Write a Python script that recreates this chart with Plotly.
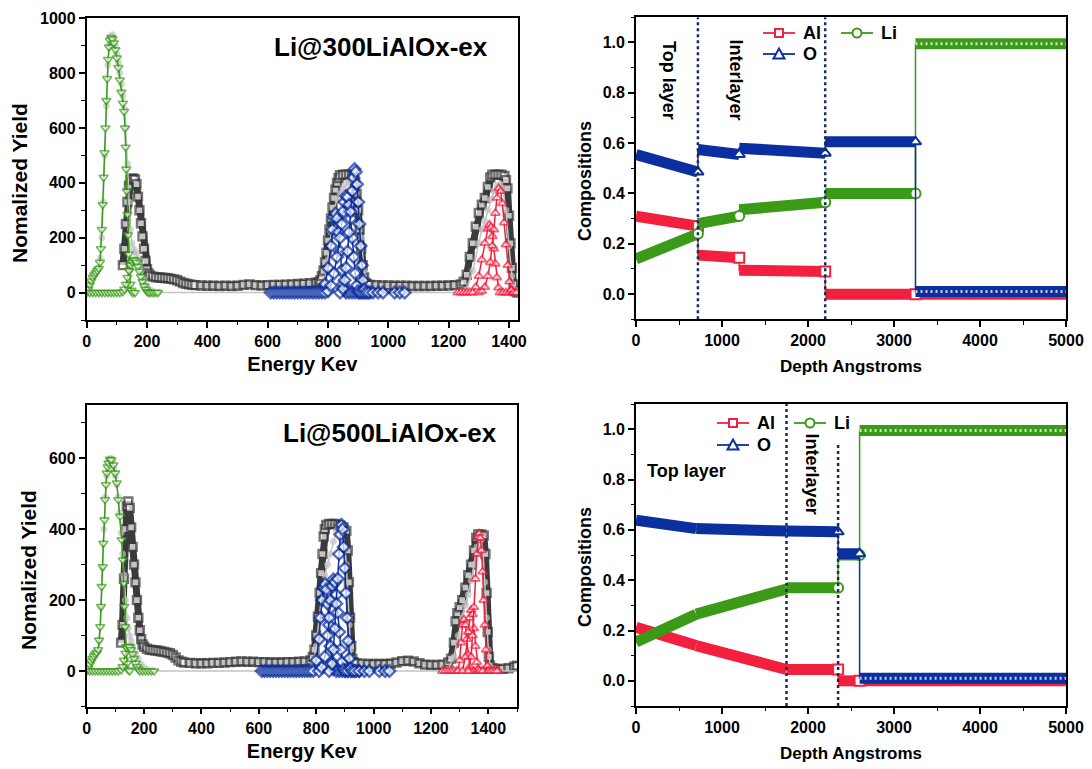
import plotly.graph_objects as go

F = "Liberation Sans"

# ---------------- Left panels: (Energy keV, Normalized yield) ----------------
TL_EXP = [(120,100),(125,160),(130,250),(135,330),(140,390),(145,410),(150,415),(155,415),(160,412),(165,395),
          (170,350),(175,300),(180,253),(185,205),(190,160),(195,115),(200,85),(205,70),(210,62),(220,58),
          (230,56),(240,55),(250,54),(260,53),(270,52),(280,50),(290,48),(300,45),(310,40),(320,35),
          (330,32),(340,30),(350,28),(360,27),(380,26),(400,25),(420,25),(440,24),(460,25),(480,24),
          (500,25),(520,28),(540,30),(560,27),(580,26),(600,27),(620,28),(640,28),(660,29),(680,30),
          (700,31),(720,32),(740,34),(760,36),(770,38),(775,45),(780,60),(785,80),(790,110),(795,145),
          (800,190),(805,230),(810,270),(815,310),(820,345),(825,375),(830,400),(835,418),(840,428),(850,430),
          (860,430),(870,430),(880,428),(885,420),(890,400),(895,360),(900,300),(905,230),(910,160),(915,100),
          (920,55),(925,35),(930,30),(940,28),(960,27),(980,26),(1000,26),(1020,25),(1040,25),(1060,25),
          (1080,24),(1100,24),(1120,24),(1140,24),(1160,25),(1180,25),(1200,26),(1220,27),(1240,30),(1250,40),
          (1260,65),(1270,130),(1280,180),(1290,240),(1300,290),(1310,320),(1320,345),(1330,385),(1338,420),(1345,430),
          (1355,430),(1365,430),(1375,430),(1385,425),(1390,410),(1395,380),(1400,280),(1405,180),(1410,90),(1415,30),
          (1420,5),(1428,0)]
TL_SIM = [(0,0),(10,30),(20,60),(30,78),(40,92),(45,125),(50,200),(55,330),(60,500),(65,680),
          (70,830),(75,905),(80,935),(85,940),(90,925),(95,900),(100,870),(105,840),(110,800),(115,760),
          (120,715),(125,670),(130,600),(135,470),(140,330),(145,230),(150,180),(155,160),(160,150),(165,140),
          (170,120),(175,100),(180,80),(190,50),(200,25),(210,10),(220,5),(240,2),(260,0),(320,0),
          (400,0),(500,0),(600,0),(700,0),(760,0),(780,5),(790,40),(800,120),(810,220),(820,300),
          (830,340),(840,360),(850,380),(860,395),(870,405),(880,410),(890,400),(900,330),(910,200),(920,80),
          (930,20),(940,5),(960,0),(1050,0),(1150,0),(1240,0),(1260,10),(1280,80),(1300,180),(1310,230),
          (1320,260),(1330,300),(1340,340),(1350,370),(1360,390),(1370,395),(1380,380),(1390,300),(1400,170),(1410,60),
          (1420,10),(1430,0)]
TL_LI1 = [(0,0),(5,12),(10,28),(15,42),(20,55),(25,64),(30,72),(35,80),(40,88),(44,110),
          (47,160),(50,230),(53,320),(56,420),(59,510),(62,600),(65,700),(68,780),(71,850),(74,895),
          (77,920),(81,930),(85,925),(90,910),(95,885),(100,855),(105,820),(110,775),(115,730),(120,690),
          (124,660),(127,600),(129,530),(131,450),(133,370),(135,285),(137,210),(139,140),(142,80),(145,30),
          (148,8),(152,0),(160,0)]
TL_LI2 = [(10,0),(20,0),(30,0),(40,0),(50,0),(60,0),(70,0),(80,0),(90,0),(100,0),
          (110,0),(120,3),(125,12),(130,30),(135,55),(140,80),(145,100),(150,113),(155,120),(160,118),
          (165,110),(170,95),(175,78),(180,58),(185,40),(190,24),(195,12),(200,4),(205,0),(212,0),
          (220,0),(228,0),(236,0)]
TL_O1 = [(610,0),(620,0),(630,0),(640,0),(650,0),(660,0),(670,0),(680,0),(690,0),(700,0),
         (710,0),(720,0),(730,0),(740,0),(750,0),(760,0),(770,0),(780,0),(790,30),(800,90),
         (810,170),(815,230),(820,275),(825,288),(830,270),(835,220),(840,150),(845,80),(850,30),(855,8),
         (860,0),(870,0),(880,0),(890,0),(900,0),(910,0),(920,0),(930,0),(940,0)]
TL_O2 = [(790,0),(800,5),(810,25),(820,70),(830,130),(840,200),(845,250),(850,295),(855,330),(860,352),
         (865,348),(870,320),(875,270),(880,200),(885,130),(890,70),(895,25),(900,5),(905,0),(915,0)]
TL_O3 = [(840,0),(850,15),(855,45),(860,90),(865,150),(870,220),(875,295),(880,370),(884,420),(888,450),
         (892,440),(896,395),(900,330),(904,250),(908,170),(912,100),(916,45),(920,12),(925,0),(935,0),
         (949,0),(966,0),(982,0),(1021,0),(1038,0),(1054,0)]
TL_AL1 = [(1230,0),(1240,0),(1250,0),(1260,0),(1270,0),(1280,0),(1290,20),(1300,60),(1310,120),(1320,180),
          (1330,232),(1335,247),(1340,238),(1345,205),(1350,160),(1355,105),(1360,55),(1365,18),(1370,0),(1380,0),
          (1390,0),(1400,0),(1410,0),(1420,0)]
TL_AL2 = [(1300,0),(1310,5),(1320,20),(1330,60),(1338,110),(1345,170),(1350,230),(1355,290),(1360,345),(1366,380),
          (1372,370),(1378,325),(1384,255),(1390,175),(1396,100),(1402,40),(1408,10),(1415,0),(1425,0)]

BL_EXP = [(120,80),(125,130),(130,260),(135,400),(140,465),(145,478),(150,460),(155,405),(160,350),(165,300),
          (170,250),(175,200),(180,150),(185,115),(190,90),(195,75),(200,68),(210,63),(220,60),(230,59),
          (240,58),(250,57),(260,55),(270,54),(280,52),(290,50),(300,45),(310,38),(320,30),(330,26),
          (340,24),(360,23),(380,22),(400,22),(420,22),(440,23),(460,23),(480,24),(500,25),(520,26),
          (540,27),(560,26),(580,26),(600,25),(620,25),(640,24),(660,24),(680,24),(700,25),(720,25),
          (740,26),(760,27),(780,30),(788,40),(794,60),(800,100),(806,153),(812,220),(817,276),(822,330),
          (826,379),(830,400),(835,412),(845,415),(855,415),(865,415),(875,412),(885,410),(895,405),(905,395),
          (910,340),(914,250),(918,150),(922,70),(926,35),(930,25),(940,22),(960,21),(980,20),(1000,20),
          (1020,20),(1040,20),(1060,21),(1080,24),(1100,28),(1120,29),(1140,27),(1160,22),(1180,18),(1200,17),
          (1220,17),(1240,18),(1260,24),(1270,35),(1280,80),(1286,140),(1292,163),(1300,180),(1309,200),(1320,235),
          (1330,270),(1340,300),(1350,340),(1358,375),(1365,385),(1375,385),(1384,382),(1390,330),(1394,220),(1398,110),
          (1402,40),(1406,15),(1415,8),(1430,6),(1450,6),(1470,8),(1490,12),(1500,15)]
BL_SIM = [(0,0),(10,15),(20,30),(30,42),(40,55),(45,85),(50,180),(55,290),(60,400),(65,490),
          (70,550),(75,585),(80,598),(85,600),(90,590),(95,570),(100,550),(105,525),(110,490),(115,445),
          (120,390),(125,330),(130,270),(135,200),(140,150),(145,120),(150,100),(155,85),(160,70),(170,50),
          (180,35),(190,20),(200,10),(210,5),(230,2),(260,0),(320,0),(400,0),(500,0),(600,0),
          (700,0),(760,0),(780,3),(790,20),(800,70),(810,150),(820,220),(830,270),(840,300),(850,330),
          (860,365),(870,395),(880,400),(890,395),(900,350),(905,300),(910,220),(915,130),(920,60),(925,20),
          (935,5),(950,0),(1050,0),(1150,0),(1240,0),(1260,5),(1280,40),(1295,100),(1310,150),(1320,185),
          (1330,215),(1340,255),(1350,300),(1360,350),(1368,375),(1375,370),(1382,330),(1388,250),(1394,150),(1400,60),
          (1406,15),(1415,3),(1430,0),(1500,0)]
BL_LI1 = [(0,0),(5,8),(10,18),(15,27),(20,35),(25,42),(30,48),(35,52),(40,60),(43,87),
          (47,125),(50,182),(52,238),(56,294),(58,360),(62,426),(64,483),(67,525),(70,558),(73,575),
          (76,586),(81,597),(86,595),(93,581),(99,558),(105,530),(110,483),(116,436),(122,370),(126,313),
          (129,247),(131,182),(134,125),(137,69),(141,22),(145,3),(150,0)]
BL_LI2 = [(10,0),(20,0),(30,0),(40,0),(50,0),(60,0),(70,0),(80,0),(90,0),(100,0),
          (110,0),(120,3),(125,12),(130,30),(135,50),(140,65),(145,70),(150,68),(155,60),(160,48),
          (165,35),(170,22),(175,12),(180,5),(185,0),(195,0),(205,0),(215,0),(225,0),(235,0)]
BL_O1 = [(610,0),(620,0),(630,0),(640,0),(650,0),(660,0),(670,0),(680,0),(690,0),(700,0),
         (710,0),(720,0),(730,0),(740,0),(750,0),(760,0),(770,0),(780,0),(790,0),(800,30),
         (810,90),(815,150),(820,200),(825,235),(830,245),(835,230),(840,190),(845,130),(850,70),(855,25),
         (860,5),(870,0),(880,0),(890,0),(900,0),(910,0),(920,0),(930,0),(940,0),(950,0)]
BL_O2 = [(810,0),(820,10),(830,40),(840,100),(845,150),(850,200),(855,240),(860,258),(865,250),(870,215),
         (875,165),(880,110),(885,60),(890,25),(895,5),(900,0),(910,0)]
BL_O3 = [(845,0),(855,20),(860,60),(865,120),(870,190),(875,260),(880,330),(884,385),(888,412),(892,400),
         (896,350),(900,290),(904,220),(908,150),(912,85),(916,35),(920,8),(925,0),(935,0),(950,0),
         (968,0),(985,0),(1020,0),(1040,0),(1055,0)]
BL_AL1 = [(1240,0),(1250,0),(1260,0),(1270,0),(1280,0),(1290,0),(1295,0),(1300,30),(1305,80),(1310,130),
          (1315,145),(1320,130),(1325,90),(1330,45),(1335,12),(1340,0),(1350,0),(1360,0),(1370,0),(1380,0),
          (1390,0),(1400,0),(1410,0),(1420,0),(1428,0),(1435,0)]
BL_AL2 = [(1310,0),(1320,40),(1330,110),(1335,150),(1340,172),(1345,160),(1350,120),(1355,70),(1360,25),(1365,5),
          (1370,0),(1380,0)]
BL_AL3 = [(1330,0),(1340,40),(1345,100),(1350,180),(1355,260),(1360,330),(1365,378),(1368,388),(1372,375),(1376,340),
          (1380,280),(1384,200),(1388,130),(1392,60),(1396,15),(1400,0),(1410,0),(1420,0),(1430,0)]

# ---------------- Right panels: depth profiles (layer bounds, (start, end) composition per layer) ----------------
TR_BOUNDS = [0, 720, 1200, 2200, 3250, 5000]
TR_AL = [(0.31, 0.27), (0.155, 0.145), (0.095, 0.09), (0.0, 0.0), (0.0, 0.0)]
TR_O = [(0.555, 0.485), (0.575, 0.555), (0.58, 0.56), (0.605, 0.605), (0.01, 0.01)]
TR_LI = [(0.14, 0.24), (0.28, 0.31), (0.335, 0.365), (0.40, 0.40), (0.995, 0.995)]
TR_MARK_LAYERS = [0, 1, 2, 3]
TR_DIVIDERS = [720, 2200]
TR_DIVIDER_TOPS = [1.1, 1.1]

BR_BOUNDS = [0, 700, 1750, 2350, 2600, 5000]
BR_AL = [(0.213, 0.14), (0.14, 0.045), (0.045, 0.045), (0.0, 0.0), (0.0, 0.0)]
BR_O = [(0.638, 0.605), (0.605, 0.595), (0.595, 0.592), (0.505, 0.505), (0.01, 0.01)]
BR_LI = [(0.154, 0.265), (0.265, 0.365), (0.37, 0.37), (0.5, 0.5), (0.995, 0.995)]
BR_MARK_LAYERS = [2, 3]
BR_DIVIDERS = [1750, 2350]
BR_DIVIDER_TOPS = [1.1, 0.945]

RED = "#f2203e"
BLUE = "#0b2f9f"
GREEN = "#3b9a18"
DARK = "#3a3a3a"
LIGHT = "#c4c4c4"
NAVY = "#1a2a5a"

# the page places the figure 8px in from the window's top-left corner
OFF = 8
W, H = 1092 - OFF, 769 - OFF

fig = go.Figure()


def spectrum(pts, xa, ya, color, symbol, size, mlw, fill="white", lw=1.5, hide_zero=False):
    xs = [p[0] for p in pts]
    ys = [p[1] for p in pts]
    sizes = [0 if (hide_zero and y == 0) else size for y in ys]
    fig.add_trace(go.Scatter(
        x=xs, y=ys, xaxis=xa, yaxis=ya, mode="lines+markers", showlegend=False,
        line=dict(color=color, width=lw),
        marker=dict(symbol=symbol, size=sizes, color=fill, line=dict(color=color, width=mlw)),
    ))


for xa, ya, exp, sim, lis, os_, als in [
    ("x", "y", TL_EXP, TL_SIM, [TL_LI1, TL_LI2], [TL_O1, TL_O2, TL_O3], [TL_AL1, TL_AL2]),
    ("x3", "y3", BL_EXP, BL_SIM, [BL_LI1, BL_LI2], [BL_O1, BL_O2, BL_O3], [BL_AL1, BL_AL2, BL_AL3]),
]:
    spectrum(exp, xa, ya, DARK, "square", 8, 2.4, lw=7)
    spectrum(sim, xa, ya, LIGHT, "circle", 6, 1, fill=LIGHT, lw=1.5, hide_zero=True)
    for s in lis:
        spectrum(s, xa, ya, GREEN, "triangle-down", 8, 1.6)
    for s in os_:
        spectrum(s, xa, ya, BLUE, "diamond", 9, 2.4)
    for s in als:
        spectrum(s, xa, ya, RED, "triangle-up", 8, 1.8)


def profile(bounds, comp, xa, ya, color, symbol, mark_layers):
    bx, by, sx, sy, hx, hy = [], [], [], [], [], []
    for i, (c0, c1) in enumerate(comp):
        bx += [bounds[i], bounds[i + 1], None]
        by += [c0, c1, None]
        sx += [bounds[i], bounds[i + 1]]
        sy += [c0, c1]
        if i == len(comp) - 1:
            hx += [bounds[i], bounds[i + 1], None]
            hy += [c0, c1, None]
    fig.add_trace(go.Scatter(x=sx, y=sy, xaxis=xa, yaxis=ya, mode="lines", showlegend=False,
                             line=dict(color=color, width=1.5)))
    fig.add_trace(go.Scatter(x=bx, y=by, xaxis=xa, yaxis=ya, mode="lines", showlegend=False,
                             line=dict(color=color, width=11), connectgaps=False))
    # open-marker texture of the long flat bulk segment
    fig.add_trace(go.Scatter(x=hx, y=hy, xaxis=xa, yaxis=ya, mode="lines", showlegend=False,
                             line=dict(color="rgba(255,255,255,0.75)", width=3, dash="2px,3px")))
    fig.add_trace(go.Scatter(x=[bounds[i + 1] for i in mark_layers], y=[comp[i][1] for i in mark_layers],
                             xaxis=xa, yaxis=ya, mode="markers", showlegend=False,
                             marker=dict(symbol=symbol, size=10, color="white",
                                         line=dict(color=color, width=2))))


for xa, ya, bounds, al, o, li, ml in [
    ("x2", "y2", TR_BOUNDS, TR_AL, TR_O, TR_LI, TR_MARK_LAYERS),
    ("x4", "y4", BR_BOUNDS, BR_AL, BR_O, BR_LI, BR_MARK_LAYERS),
]:
    profile(bounds, al, xa, ya, RED, "square", ml)
    profile(bounds, li, xa, ya, GREEN, "circle", ml)
    profile(bounds, o, xa, ya, BLUE, "triangle-up", ml)

shapes = []
for xr, yr, divs, tops in [("x2", "y2", TR_DIVIDERS, TR_DIVIDER_TOPS), ("x4", "y4", BR_DIVIDERS, BR_DIVIDER_TOPS)]:
    for d, t in zip(divs, tops):
        shapes.append(dict(type="line", xref=xr, yref=yr, x0=d, x1=d, y0=-0.1, y1=t,
                           line=dict(color=NAVY, width=2.5, dash="dot")))


# screen pixel -> paper coordinates
def px(x):
    return (x - OFF) / W


def py(y):
    return 1 - (y - OFF) / H


def dx(a, b):
    return [px(a), px(b)]


def dy(top, bottom):
    return [py(bottom), py(top)]


annotations = []


def legend_entry(x0, y, color, kind, label):
    shapes.append(dict(type="line", xref="paper", yref="paper", x0=px(x0), x1=px(x0 + 32), y0=py(y), y1=py(y),
                       line=dict(color=color, width=1.8)))
    cx = x0 + 16
    h = 4
    if kind == "square":
        shapes.append(dict(type="rect", xref="paper", yref="paper", x0=px(cx - h), x1=px(cx + h),
                           y0=py(y + h), y1=py(y - h), line=dict(color=color, width=2), fillcolor="white"))
    elif kind == "circle":
        shapes.append(dict(type="circle", xref="paper", yref="paper", x0=px(cx - h - 0.5), x1=px(cx + h + 0.5),
                           y0=py(y + h + 0.5), y1=py(y - h - 0.5), line=dict(color=color, width=2),
                           fillcolor="white"))
    else:
        path = "M {} {} L {} {} L {} {} Z".format(px(cx - 5.5), py(y + 4.5), px(cx + 5.5), py(y + 4.5),
                                                  px(cx), py(y - 5.5))
        shapes.append(dict(type="path", xref="paper", yref="paper", path=path,
                           line=dict(color=color, width=2), fillcolor="white"))
    annotations.append(dict(xref="paper", yref="paper", x=px(x0 + 38), y=py(y), text=label, showarrow=False,
                            xanchor="left", yanchor="middle",
                            font=dict(family=F, size=18, color="black", weight="bold")))


legend_entry(763, 33, RED, "square", "Al")
legend_entry(763, 54, BLUE, "tri", "O")
legend_entry(841, 33, GREEN, "circle", "Li")
legend_entry(717, 423, RED, "square", "Al")
legend_entry(717, 445, BLUE, "tri", "O")
legend_entry(794, 423, GREEN, "circle", "Li")

bold = lambda s: dict(family=F, size=s, color="black", weight="bold")

annotations += [
    dict(xref="x", yref="y", x=976, y=897, text="Li@300LiAlOx-ex", showarrow=False, font=bold(26)),
    dict(xref="x3", yref="y3", x=1056, y=671, text="Li@500LiAlOx-ex", showarrow=False, font=bold(26)),
    dict(xref="x2", yref="y2", x=385, y=0.85, text="Top layer", showarrow=False, textangle=90, font=bold(18)),
    dict(xref="x2", yref="y2", x=1160, y=0.85, text="Interlayer", showarrow=False, textangle=90, font=bold(18)),
    dict(xref="x4", yref="y4", x=100, y=0.835, text="Top layer", showarrow=False, xanchor="left", font=bold(18)),
    dict(xref="x4", yref="y4", x=2045, y=0.82, text="Interlayer", showarrow=False, textangle=90, font=bold(18)),
]

# y-axis titles (sit a little below the middle of each frame, as in the original)
for x, y, text, size in [(20, 183, "Nomalized Yield", 21), (28, 570, "Nomalized Yield", 21),
                         (585, 181, "Compositions", 18), (585, 567, "Compositions", 18)]:
    annotations.append(dict(xref="paper", yref="paper", x=px(x), y=py(y), text=text, textangle=-90,
                            showarrow=False, xanchor="center", yanchor="middle", font=bold(size)))


def axis(domain, rng, dtick, minor, anchor, title, tsize, standoff, fmt=None):
    d = dict(domain=domain, range=rng, anchor=anchor, dtick=dtick, tick0=0, automargin=False,
             showline=True, linecolor="black", linewidth=1.8, mirror=True,
             ticks="outside", ticklen=6, tickwidth=1.6, tickcolor="black",
             showgrid=False, zeroline=False, tickfont=bold(16),
             minor=dict(ticks="outside", ticklen=3.5, tickwidth=1.3, tickcolor="black", dtick=minor, showgrid=False),
             title=dict(text=title, font=bold(tsize), standoff=standoff))
    if fmt:
        d["tickformat"] = fmt
    return d


fig.update_layout(
    width=W, height=H, margin=dict(l=0, r=0, t=0, b=0, autoexpand=False),
    paper_bgcolor="white", plot_bgcolor="white", showlegend=False,
    xaxis=axis(dx(86.7, 518), [0, 1430], 200, 100, "y", "Energy Kev", 20, 8),
    yaxis=axis(dy(18.3, 320), [-100, 1000], 200, 100, "x", "", 21, 10),
    xaxis2=axis(dx(636, 1066), [0, 5000], 1000, 500, "y2", "Depth Angstroms", 17, 12),
    yaxis2=axis(dy(17.3, 319.3), [-0.1, 1.1], 0.2, 0.1, "x2", "", 18, 10, ".1f"),
    xaxis3=axis(dx(86.7, 517), [0, 1500], 200, 100, "y3", "Energy Kev", 20, 8),
    yaxis3=axis(dy(405, 706.5), [-100, 750], 200, 100, "x3", "", 21, 10),
    xaxis4=axis(dx(636, 1066), [0, 5000], 1000, 500, "y4", "Depth Angstroms", 17, 12),
    yaxis4=axis(dy(404, 706), [-0.1, 1.1], 0.2, 0.1, "x4", "", 18, 10, ".1f"),
    shapes=shapes, annotations=annotations,
)

fig.write_html("out.html")
